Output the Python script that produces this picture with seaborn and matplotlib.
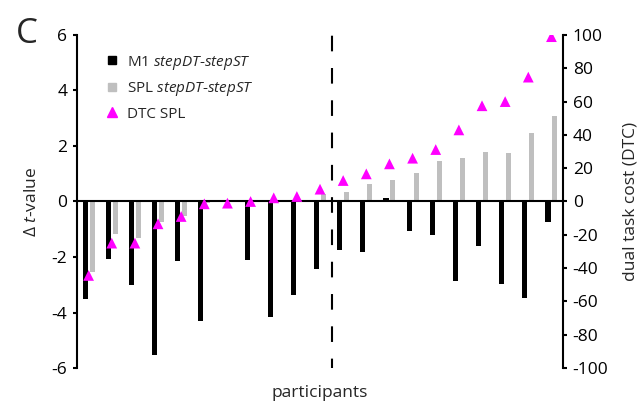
import numpy as np
import pandas as pd
import seaborn as sns
import matplotlib
matplotlib.use("Agg")
import matplotlib.pyplot as plt
from matplotlib.lines import Line2D

# t-value differences per participant (stepDT - stepST)
m1_diff = [-3.5, -2.07, -3.0, -5.53, -2.13, -4.3, 0.06, -2.1, -4.16, -3.36, -2.43,
           -1.75, -1.81, 0.13, -1.08, -1.19, -2.86, -1.6, -2.98, -3.49, -0.73]
spl_diff = [-2.55, -1.17, -1.31, -0.75, -0.54, -0.04, 0.02, 0.02, 0.03, 0.05, 0.28,
            0.36, 0.63, 0.77, 1.04, 1.46, 1.55, 1.77, 1.73, 2.48, 3.08]
# dual task cost of SPL
dtc_spl = [-44.4, -25, -25, -13.4, -9, -1.4, -1, 0, 2.2, 3, 7.4,
           12.6, 16.6, 22.6, 26, 31.2, 43, 57.5, 60, 74.7, 99]

left_ticks = [-6, -4, -2, 0, 2, 4, 6]
right_ticks = [-100, -80, -60, -40, -20, 0, 20, 40, 60, 80, 100]

n = len(m1_diff)
participants = list(range(n))
df = pd.DataFrame({
    "participant": participants * 2,
    "type": ["M1"] * n + ["SPL"] * n,
    "value": m1_diff + spl_diff,
})

sns.set_style("white")
plt.rcParams['font.family'] = ['Open Sans', 'DejaVu Sans']
plt.rcParams['mathtext.fontset'] = 'custom'
plt.rcParams['mathtext.it'] = 'Open Sans:italic'
plt.rcParams['mathtext.rm'] = 'Open Sans'

fig = plt.figure(figsize=(6.43, 4.04), dpi=100)
ax = fig.add_axes([0.1198, 0.0891, 0.7558, 0.8243])

sns.barplot(data=df, x="participant", y="value", hue="type",
            palette={"M1": "black", "SPL": "#bfbfbf"},
            width=0.6, legend=False, ax=ax, saturation=1, linewidth=0)
# slimmer bars, keep centres
for p in ax.patches:
    c = p.get_x() + p.get_width() / 2
    p.set_width(0.22)
    p.set_x(c - 0.11)

ax.set_xlim(-0.5, n - 0.5)
ax.set_ylim(-6, 6)
ax.set_yticks(left_ticks)
ax.set_yticklabels([str(t) for t in left_ticks])
ax.set_xticks([])
ax.axhline(0, color="black", lw=1.5, zorder=5)
ax.axvline(10.5, color="black", lw=1.5, ls=(3, (7.5, 8)), zorder=5)
for s in ["top", "bottom", "right"]:
    ax.spines[s].set_visible(False)
ax.spines["left"].set_linewidth(1.5)
ax.spines["left"].set_color("black")
ax.tick_params(axis="y", left=True, length=3, width=1.5, labelsize=12.5, pad=4, colors="black")
ax.set_xlabel("participants", fontsize=12.5, labelpad=12)
ax.set_ylabel("Δ $\\it{t}$-value", fontsize=12.5, labelpad=8)

ax2 = ax.twinx()
sns.scatterplot(x=participants, y=dtc_spl, marker="^", color="#ff00ff", s=60,
                edgecolor="none", ax=ax2, zorder=6)
ax2.set_ylim(-100, 100)
ax2.set_yticks(right_ticks)
ax2.set_yticklabels([str(t) for t in right_ticks])
for s in ["top", "bottom", "left"]:
    ax2.spines[s].set_visible(False)
ax2.spines["right"].set_linewidth(1.5)
ax2.spines["right"].set_color("black")
ax2.tick_params(axis="y", right=True, length=3, width=1.5, labelsize=12.5, pad=4, colors="black")
ax2.set_ylabel("dual task cost (DTC)", fontsize=12.5, labelpad=10)

handles = [
    Line2D([], [], ls="none", marker="s", color="black", markersize=6),
    Line2D([], [], ls="none", marker="s", color="#bfbfbf", markersize=6),
    Line2D([], [], ls="none", marker="^", color="#ff00ff", markersize=7.5),
]
labels = ["M1 $\\it{stepDT}$-$\\it{stepST}$",
          "SPL $\\it{stepDT}$-$\\it{stepST}$",
          "DTC SPL"]
ax2.legend(handles, labels, loc="upper left", bbox_to_anchor=(0.025, 0.985),
           frameon=False, fontsize=11, handletextpad=0.4, labelspacing=0.55,
           handlelength=1.2)

fig.text(0.025, 0.915, "C", fontsize=25, va="center", ha="left")

fig.savefig("out.png", dpi=100)
